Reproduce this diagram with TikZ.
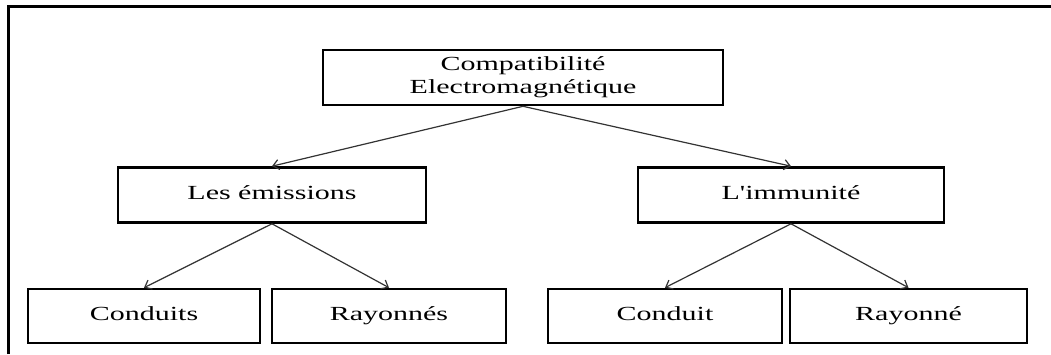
\documentclass[tikz,border=0pt]{standalone}
\usepackage{fontspec}
\usetikzlibrary{arrows.meta}
\newfontfamily\boxfont[FakeStretch=1.5]{Liberation Serif}

\begin{document}
\begin{tikzpicture}[x=0.5pt, y=0.5pt,
    >={Straight Barb[length=3pt,width=5pt]},
    box/.style={draw, line width=1.3pt, rectangle, inner sep=0pt, minimum height=27.5pt,
                font=\boxfont\fontsize{10}{11.5}\selectfont, align=center},
    oneline/.style={box, text height=7pt, text depth=2pt},
    link/.style={->, line width=0.6pt, black!80}]
\useasboundingbox (0,0) rectangle (1051,354);
% frame, only top and left sides show
\draw[line width=1.5pt] (8,0) -- (8,347) -- (1051,347);

\node[box, minimum width=200pt] (C)  at (523,276.5) {Compatibilité\\Electromagnétique};
\node[oneline, minimum width=154pt] (E)  at (272,159) {Les émissions};
\node[oneline, minimum width=153pt] (I)  at (791,159) {L'immunité};
\node[oneline, minimum width=116pt, minimum height=27pt] (EC) at (144,38) {Conduits};
\node[oneline, minimum width=117pt, minimum height=27pt] (ER) at (389,38) {Rayonnés};
\node[oneline, minimum width=117pt, minimum height=27pt] (IC) at (665,38) {Conduit};
\node[oneline, minimum width=118.5pt, minimum height=27pt] (IR) at (908.5,38) {Rayonné};

\draw[link] (C.south) -- (E.north);
\draw[link] (C.south) -- (I.north);
\draw[link] (E.south) -- (EC.north);
\draw[link] (E.south) -- (ER.north);
\draw[link] (I.south) -- (IC.north);
\draw[link] (I.south) -- (IR.north);
\end{tikzpicture}
\end{document}
